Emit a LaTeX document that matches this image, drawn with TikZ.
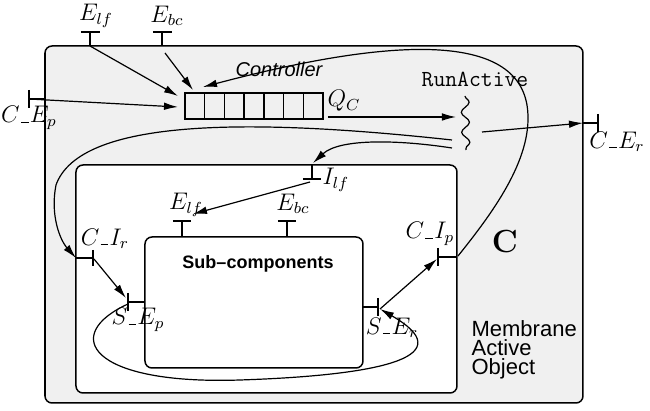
\documentclass[tikz,border=0pt,11pt]{standalone}
\usepackage{fontspec}
\setsansfont{Liberation Sans}
\usetikzlibrary{arrows.meta,decorations.pathmorphing,fit}
\newcommand{\usc}{\mbox{\kern.05em\vbox{\hrule width.32em height 0.5pt}\kern.05em}}
\begin{document}
\begin{tikzpicture}[x=0.5pt,y=-0.5pt, line width=0.6pt,
  arr/.style={-{Latex[length=7pt,width=3.8pt]}},
  box/.style={draw, line width=0.75pt, rounded corners=3.5pt, inner sep=0pt},
  port/.style={line width=0.7pt},
  lbl/.style={inner sep=0pt, font=\large}]
\useasboundingbox (0,0) rectangle (650,411);
% boxes
\node[box, fill=black!6, fit={(45,46)(583,403)}] (outer) {};
\node[box, fill=white, fit={(76,165)(457,393)}] (membrane) {};
\node[box, fill=white, fit={(145,237)(363,368)}] (sub) {};
\node[draw, line width=0.75pt, inner sep=0pt, fit={(185,93)(323,119)}] (queue) {};
\foreach \i in {1,...,6} \draw[line width=0.75pt] ({185+\i*138/7},93) -- ({185+\i*138/7},119);
% ports
\coordinate (elfO) at (90,46);
\draw[port] (elfO) -- (90,32) (81,32) -- (100,32);
\coordinate (ebcO) at (162,46);
\draw[port] (ebcO) -- (162,32) (153,32) -- (172,32);
\coordinate (cepB) at (29,99);
\draw[port] (45,99) -- (cepB) (29,90) -- (29,108);
\coordinate (cerS) at (583,123);
\draw[port] (cerS) -- (598,123) (598,114) -- (598,132);
\coordinate (ilfT) at (312,165);
\draw[port] (ilfT) -- (312,179) (303,179) -- (321,179);
\draw[port] (182,237) -- (182,221) (173,221) -- (191,221);
\draw[port] (287,237) -- (287,221) (278,221) -- (296,221);
\coordinate (cirS) at (76,258);
\draw[port] (cirS) -- (93,258) (93,250) -- (93,266);
\coordinate (sepB) at (128,302);
\draw[port] (145,302) -- (sepB) (128,293) -- (128,311);
\coordinate (serB) at (378,307);
\draw[port] (363,307) -- (serB) (378,298) -- (378,316);
\coordinate (cipS) at (457,257);
\draw[port] (cipS) -- (438,257) (438,248) -- (438,266);
% labels
\node[lbl] (lElfO) at (96,16) {$E_{lf}$};
\node[lbl] (lEbcO) at (167,16) {$E_{bc}$};
\node[lbl] (lCEp) at (29,118) {$C\usc E_p$};
\node[lbl] (lCEr) at (617,142) {$C\usc E_r$};
\node[lbl, anchor=west] (lIlf) at (322,180) {$I_{lf}$};
\node[lbl] (lElfS) at (186,205) {$E_{lf}$};
\node[lbl] (lEbcS) at (293,204) {$E_{bc}$};
\node[lbl] (lCIr) at (105,239) {$C\usc I_r$};
\node[lbl] (lSEp) at (138,320) {$S\usc E_p$};
\node[lbl] (lSEr) at (392,328) {$S\usc E_r$};
\node[lbl] (lCIp) at (430,234) {$C\usc I_p$};
\node[lbl] (lQC) at (344,101) {$Q_C$};
\node[inner sep=0pt, font=\fontsize{10}{12}\selectfont\sffamily\itshape] (ctrl) at (279,69) {Controller};
\node[inner sep=0pt, font=\fontsize{11.5}{13}\selectfont\ttfamily] (run) at (475,79) {RunActive};
\node[inner sep=0pt, font=\fontsize{16}{18}\selectfont\bfseries] (bigC) at (505,242) {C};
\node[inner sep=0pt, font=\fontsize{9}{11}\selectfont\sffamily\bfseries] (subt) at (258,264) {Sub–components};
\node[inner sep=0pt, anchor=north west, align=left, font=\fontsize{11}{9.6}\selectfont\sffamily] (mao) at (471,320) {Membrane\\Active\\Object};
% squiggle
\coordinate (sqT) at (465,96);
\coordinate (sqB) at (466,150);
\draw[decorate, decoration={snake, amplitude=2pt, segment length=10pt}] (sqT) -- (sqB);
% arrows
\coordinate (q1) at (178,96);
\coordinate (q2) at (193,90);
\coordinate (q3) at (178,107);
\coordinate (q4) at (203,87);
\coordinate (ebcS) at (165,53);
\draw[arr] (elfO) -- (q1);
\draw[arr] (ebcS) -- (q2);
\draw[arr] (cepB) -- (q3);
\coordinate (cipO) at (458,256);
\draw[arr] (cipO) .. controls (495,210) and (535,155) .. (527,105) .. controls (515,35) and (400,35) .. (q4);
\coordinate (qout) at (328,117);
\coordinate (sqin) at (456,117);
\draw[arr] (qout) -- (sqin);
\coordinate (sqout) at (482,132);
\draw[arr] (sqout) -- (cerS);
\coordinate (sq1) at (452,140);
\draw[arr] (sq1) .. controls (250,118) and (80,118) .. (56,185) .. controls (50,215) and (60,240) .. (cirS);
\coordinate (sq2) at (452,148);
\coordinate (ilfA) at (313,163);
\draw[arr] (sq2) .. controls (400,140) and (340,138) .. (ilfA);
\coordinate (ilfB) at (310,182);
\coordinate (elfSin) at (193,214);
\draw[arr] (ilfB) -- (elfSin);
\coordinate (cirB) at (94,259);
\coordinate (sepA) at (126,298);
\draw[arr] (cirB) -- (sepA);
\coordinate (sepC) at (128,304);
\coordinate (serA) at (380,309);
\draw[arr] (sepC) .. controls (60,335) and (90,385) .. (240,380) .. controls (390,375) and (460,355) .. (serA);
\coordinate (cipB) at (437,259);
\draw[arr] (serA) -- (cipB);
\end{tikzpicture}
\end{document}
